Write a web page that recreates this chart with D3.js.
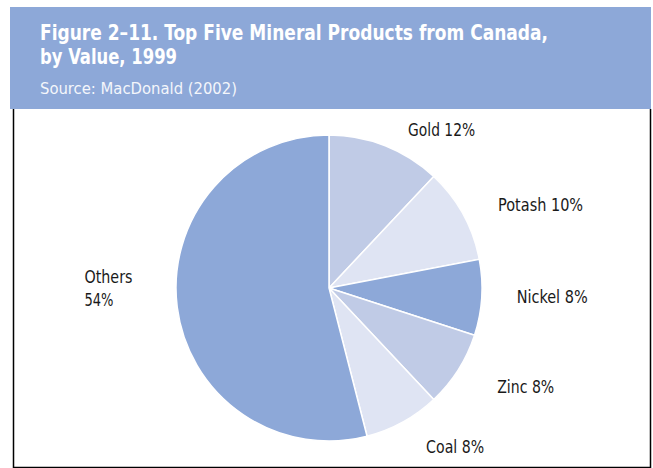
<!DOCTYPE html>
<html lang="en">
<head>
  <meta charset="UTF-8">
  <script src="https://d3js.org/d3.v7.min.js"></script>
  <title>Top Five Mineral Products from Canada</title>
  <style>
    body {
      margin: 0;
      background: #fff;
      overflow: hidden;
    }
    text {
      font-family: "DejaVu Sans", "Liberation Sans", sans-serif;
      font-stretch: condensed;
    }
  </style>
</head>
<body>
<script>
  // Chart data
  const categories = ["Gold", "Potash", "Nickel", "Zinc", "Coal", "Others"];
  const shares = [12, 10, 8, 8, 8, 54];
  const sliceColors = ["#c0cbe6", "#dfe4f3", "#8da8d8", "#c0cbe6", "#dfe4f3", "#8da8d8"];

  const titleLines = ["Figure 2\u201311. Top Five Mineral Products from Canada,", "by Value, 1999"];
  const sourceText = "Source: MacDonald (2002)";

  const width = 653;
  const height = 468;

  const svg = d3.select("body").append("svg")
    .attr("width", width)
    .attr("height", height);

  // Header band
  svg.append("rect")
    .attr("x", 10).attr("y", 7)
    .attr("width", 641).attr("height", 102)
    .attr("fill", "#8da8d8");

  const titleWidths = [508, 137];
  svg.selectAll(".title")
    .data(titleLines)
    .enter().append("text")
    .attr("class", "title")
    .attr("x", 40)
    .attr("y", (d, i) => 40 + i * 24)
    .attr("fill", "#fff")
    .attr("font-size", 22)
    .attr("font-weight", "bold")
    .attr("textLength", (d, i) => titleWidths[i])
    .attr("lengthAdjust", "spacingAndGlyphs")
    .text(d => d);

  svg.append("text")
    .attr("x", 40).attr("y", 94)
    .attr("fill", "#f4f6fb")
    .attr("font-size", 16)
    .attr("textLength", 197)
    .attr("lengthAdjust", "spacingAndGlyphs")
    .text(sourceText);

  // Frame around the plot area
  svg.append("path")
    .attr("d", "M13.5,109 V467.5 H650.5 V109")
    .attr("fill", "none")
    .attr("stroke", "#000")
    .attr("stroke-width", 1.5);

  // Pie
  const cx = 329, cy = 288, radius = 153;
  const data = categories.map((c, i) => ({ name: c, value: shares[i], color: sliceColors[i] }));

  const pie = d3.pie().value(d => d.value).sort(null);
  const arc = d3.arc().innerRadius(0).outerRadius(radius);
  const labelArc = d3.arc().innerRadius(185).outerRadius(185);

  const g = svg.append("g").attr("transform", `translate(${cx},${cy})`);

  g.selectAll("path")
    .data(pie(data))
    .enter().append("path")
    .attr("d", arc)
    .attr("fill", d => d.data.color)
    .attr("stroke", "#fff")
    .attr("stroke-width", 1.5);

  // Label nudges from the label-arc point, and fitted widths (layout only)
  const nudge = {
    Gold: [11, 20], Potash: [7, 12], Nickel: [3, 3],
    Zinc: [12, 6], Coal: [8, 3], Others: [-61, -28]
  };
  const labelWidth = { Gold: 67, Potash: 85, Nickel: 71, Zinc: 57, Coal: 58 };

  const labels = g.selectAll(".label")
    .data(pie(data))
    .enter().append("text")
    .attr("class", "label")
    .attr("fill", "#1a1a1a")
    .attr("font-size", 18)
    .attr("transform", d => {
      const [x, y] = labelArc.centroid(d);
      const [dx, dy] = nudge[d.data.name];
      return `translate(${x + dx},${y + dy})`;
    });

  labels.each(function (d) {
    const t = d3.select(this);
    if (d.data.name === "Others") {
      t.append("tspan").attr("x", 0).attr("dy", 0)
        .attr("textLength", 48).attr("lengthAdjust", "spacingAndGlyphs")
        .text(d.data.name);
      t.append("tspan").attr("x", 0).attr("dy", 23)
        .attr("textLength", 29).attr("lengthAdjust", "spacingAndGlyphs")
        .text(d.data.value + "%");
    } else {
      t.attr("textLength", labelWidth[d.data.name])
        .attr("lengthAdjust", "spacingAndGlyphs")
        .text(`${d.data.name} ${d.data.value}%`);
    }
  });
</script>
</body>
</html>
